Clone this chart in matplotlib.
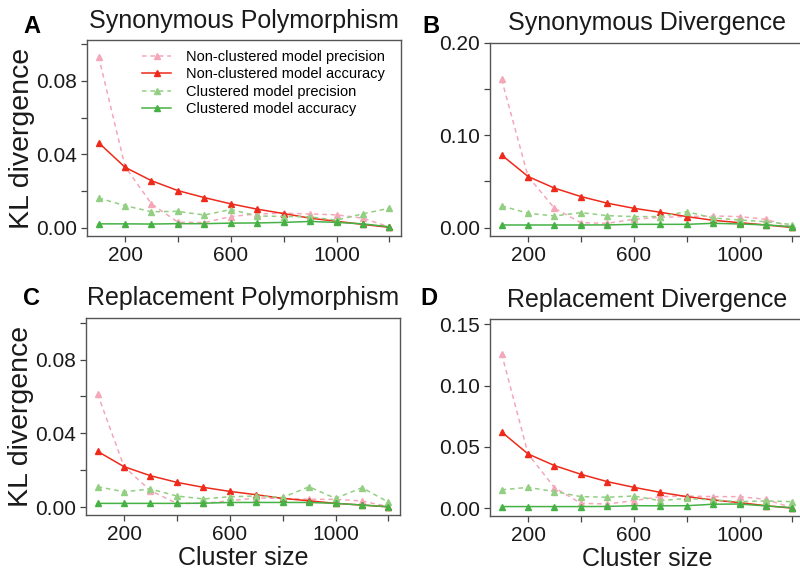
import matplotlib
matplotlib.use("Agg")
import matplotlib.pyplot as plt

plt.rcParams['font.family'] = ['Liberation Sans', 'DejaVu Sans']

# Cluster sizes on the x axis
cluster_sizes = [100, 200, 300, 400, 500, 600, 700, 800, 900, 1000, 1100, 1200]

series_names = ["Non-clustered model precision", "Non-clustered model accuracy",
                "Clustered model precision", "Clustered model accuracy"]

# A: Synonymous Polymorphism
nc_prec_A = [0.0932, 0.0334, 0.0131, 0.0031, 0.0029, 0.0062, 0.0076, 0.0080, 0.0076, 0.0071, 0.0053, 0.0005]
nc_acc_A = [0.0464, 0.0330, 0.0257, 0.0203, 0.0165, 0.0131, 0.0102, 0.0078, 0.0053, 0.0036, 0.0019, 0.0003]
cl_prec_A = [0.0163, 0.0121, 0.0088, 0.0090, 0.0070, 0.0100, 0.0065, 0.0062, 0.0060, 0.0042, 0.0077, 0.0107]
cl_acc_A = [0.0022, 0.0022, 0.0021, 0.0023, 0.0023, 0.0026, 0.0027, 0.0030, 0.0035, 0.0030, 0.0022, 0.0006]

# B: Synonymous Divergence
nc_prec_B = [0.1605, 0.0554, 0.0210, 0.0054, 0.0047, 0.0091, 0.0112, 0.0120, 0.0127, 0.0120, 0.0091, 0.0005]
nc_acc_B = [0.0787, 0.0554, 0.0428, 0.0337, 0.0265, 0.0210, 0.0167, 0.0120, 0.0080, 0.0054, 0.0029, 0.0002]
cl_prec_B = [0.0236, 0.0156, 0.0127, 0.0163, 0.0130, 0.0120, 0.0120, 0.0174, 0.0105, 0.0083, 0.0065, 0.0033]
cl_acc_B = [0.0029, 0.0029, 0.0029, 0.0029, 0.0030, 0.0036, 0.0036, 0.0036, 0.0047, 0.0040, 0.0030, 0.0010]

# C: Replacement Polymorphism
nc_prec_C = [0.0613, 0.0219, 0.0089, 0.0020, 0.0020, 0.0034, 0.0049, 0.0047, 0.0042, 0.0042, 0.0033, 0.0002]
nc_acc_C = [0.0302, 0.0219, 0.0170, 0.0134, 0.0107, 0.0085, 0.0067, 0.0047, 0.0034, 0.0020, 0.0011, 0.0001]
cl_prec_C = [0.0110, 0.0083, 0.0098, 0.0060, 0.0044, 0.0056, 0.0060, 0.0052, 0.0110, 0.0047, 0.0105, 0.0027]
cl_acc_C = [0.0020, 0.0020, 0.0020, 0.0020, 0.0021, 0.0025, 0.0025, 0.0025, 0.0025, 0.0020, 0.0011, 0.0002]

# D: Replacement Divergence
nc_prec_D = [0.1259, 0.0443, 0.0168, 0.0041, 0.0035, 0.0062, 0.0095, 0.0100, 0.0095, 0.0095, 0.0073, 0.0003]
nc_acc_D = [0.0622, 0.0443, 0.0348, 0.0277, 0.0217, 0.0171, 0.0130, 0.0095, 0.0068, 0.0046, 0.0021, 0.0001]
cl_prec_D = [0.0150, 0.0171, 0.0136, 0.0095, 0.0090, 0.0100, 0.0062, 0.0080, 0.0068, 0.0054, 0.0060, 0.0054]
cl_acc_D = [0.0014, 0.0014, 0.0014, 0.0014, 0.0015, 0.0021, 0.0020, 0.0021, 0.0033, 0.0035, 0.0019, 0.0005]

x_ticks = [200, 400, 600, 800, 1000, 1200]
x_ticklabels = ["200", "", "600", "", "1000", ""]

styles = [
    dict(color='#F4A7B9', linestyle=(0, (3, 2.5))),  # non-clustered precision
    dict(color='#EE2A1B', linestyle='-'),            # non-clustered accuracy
    dict(color='#92CF82', linestyle=(0, (3, 2.5))),  # clustered precision
    dict(color='#46B145', linestyle='-'),            # clustered accuracy
]

fig = plt.figure(figsize=(8, 5.7), dpi=100)


def draw_panel(rect, series, title, letter, letter_xy, ylim, yticks, yticklabels,
               ylabel=False, xlabel=False, legend=False):
    ax = fig.add_axes(rect)
    for values, name, st in zip(series, series_names, styles):
        ax.plot(cluster_sizes, values, marker='^', markersize=5, linewidth=1.1,
                label=name, **st)
    ax.set_xlim(56, 1244)
    ax.set_ylim(*ylim)
    ax.set_xticks(x_ticks)
    ax.set_xticklabels(x_ticklabels)
    ax.set_yticks(yticks)
    ax.set_yticklabels(yticklabels)
    ax.tick_params(labelsize=15, length=4, width=0.9, color='#444444', pad=3, labelcolor='#1a1a1a')
    for sp in ax.spines.values():
        sp.set_color('#555555')
        sp.set_linewidth(1.0)
    ax.set_title(title, fontsize=18, pad=9, color='#1a1a1a')
    # panel letter, positioned in figure pixels
    fig.text(letter_xy[0] / 800, 1 - letter_xy[1] / 570, letter, fontsize=17,
             fontweight='bold', va='baseline', ha='left')
    if ylabel:
        ax.set_ylabel("KL divergence", fontsize=20.5, color='#1a1a1a')
        ax.yaxis.set_label_coords(-0.166, 0.5)
    if xlabel:
        ax.text(0.5, -0.252, "Cluster size", transform=ax.transAxes, fontsize=18,
                ha='center', va='baseline', color='#1a1a1a')
    if legend:
        ax.legend(loc='upper left', bbox_to_anchor=(0.175, 0.95), frameon=False,
                  fontsize=10.5, handlelength=2.0, handletextpad=1.0, labelspacing=0.24,
                  borderpad=0, borderaxespad=0)
    return ax


draw_panel([0.10875, 0.586, 0.3925, 0.3438], [nc_prec_A, nc_acc_A, cl_prec_A, cl_acc_A],
           "Synonymous Polymorphism", "A", (23, 33), (-0.0044, 0.1023),
           [0.0, 0.02, 0.04, 0.06, 0.08, 0.10], ["0.00", "", "0.04", "", "0.08", ""],
           ylabel=True, legend=True)
draw_panel([0.6125, 0.586, 0.3925, 0.3386], [nc_prec_B, nc_acc_B, cl_prec_B, cl_acc_B],
           "Synonymous Divergence", "B", (422, 33), (-0.009, 0.2),
           [0.0, 0.05, 0.10, 0.15, 0.20], ["0.00", "", "0.10", "", "0.20"])
draw_panel([0.1075, 0.0965, 0.3925, 0.3461], [nc_prec_C, nc_acc_C, cl_prec_C, cl_acc_C],
           "Replacement Polymorphism", "C", (23, 305), (-0.0043, 0.1027),
           [0.0, 0.02, 0.04, 0.06, 0.08, 0.10], ["0.00", "", "0.04", "", "0.08", ""],
           ylabel=True, xlabel=True)
draw_panel([0.6125, 0.0947, 0.3925, 0.3451], [nc_prec_D, nc_acc_D, cl_prec_D, cl_acc_D],
           "Replacement Divergence", "D", (420, 305), (-0.0063, 0.154),
           [0.0, 0.05, 0.10, 0.15], ["0.00", "0.05", "0.10", "0.15"],
           xlabel=True)

fig.savefig("out.png", dpi=100)
